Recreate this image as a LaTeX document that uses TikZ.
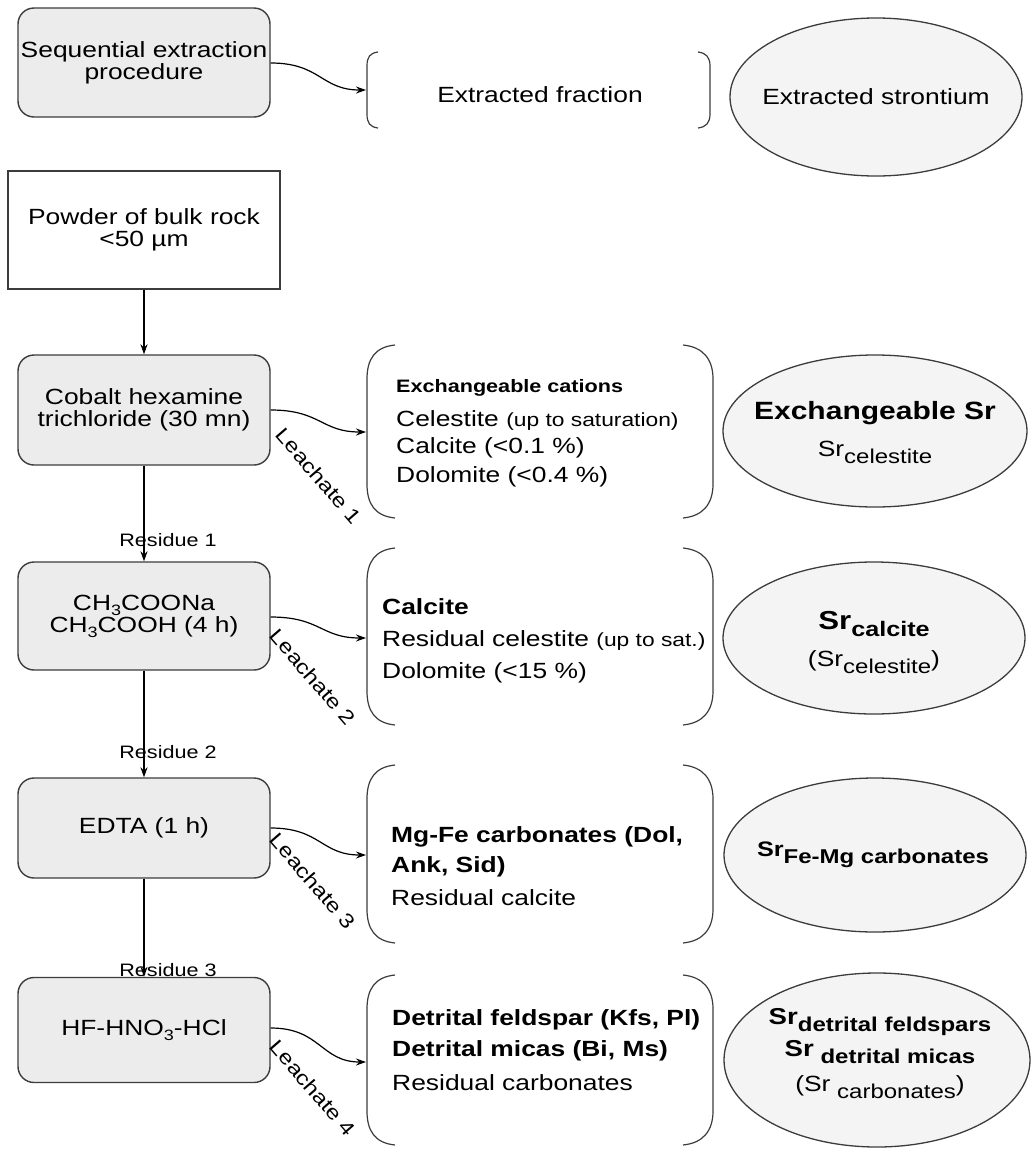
\documentclass[tikz,border=0pt]{standalone}
\usepackage{fontspec}
\setmainfont{Liberation Sans}[FakeStretch=1.2]
\usetikzlibrary{arrows.meta,shapes.geometric}
\newcommand\fsz[1]{\fontsize{#1}{#1}\selectfont}
\newcommand\subtxt[2]{\raisebox{-#1pt}{#2}}
\definecolor{boxfill}{RGB}{236,236,236}
\definecolor{ellfill}{RGB}{244,244,244}
\definecolor{edge}{RGB}{60,60,60}
\tikzset{
  proc/.style={draw=edge, line width=1.4pt, fill=boxfill, rounded corners=16pt,
    minimum width=252pt, align=center, font=\fsz{22}, inner sep=0pt},
  plain/.style={draw=edge, line width=1.4pt, fill=white, minimum width=272pt,
    minimum height=118pt, align=center, font=\fsz{22}, inner sep=0pt},
  ell/.style={ellipse, draw=edge, line width=1.3pt, fill=ellfill, inner sep=0pt},
  etxt/.style={inner sep=0pt, align=center, font=\fsz{22}},
  ltxt/.style={inner sep=0pt, anchor=west, font=\fsz{22}},
  lab/.style={inner sep=0pt, font=\fsz{18}},
  rlab/.style={inner sep=0pt, font=\fsz{20}, rotate=-49},
  brk/.style={line width=1.2pt, draw=edge},
  down/.style={line width=1.3pt, -{Stealth[length=10pt,width=7pt]}},
  leach/.style={line width=1.2pt, -{Stealth[length=10pt,width=7pt]}},
}
\begin{document}
\begin{tikzpicture}[x=1pt,y=-1pt]
\useasboundingbox (0,0) rectangle (1034,1149);

% header row
\node[proc, minimum height=109pt] (hd) at (144,62.5) {Sequential extraction\\procedure};
\node[etxt] (hf) at (540,95) {Extracted fraction};
\node[ell, minimum width=292pt, minimum height=158pt] (he) at (876,97) {};
\node[etxt] (het) at (he.center) {Extracted strontium};
\coordinate (hb) at (366,90);
\draw[brk] (378,52) .. controls (370,53) and (367,57) .. (367,66) -- (367,114) .. controls (367,123) and (370,127) .. (378,128);
\draw[brk] (698,52) .. controls (706,53) and (710,57) .. (710,66) -- (710,114) .. controls (710,123) and (706,127) .. (698,128);
\draw[leach] (hd.east |- 0,63) .. controls +(50,0) and +(-45,0) .. (hb);

% powder
\node[plain] (pw) at (144,230) {Powder of bulk rock\\<50 µm};

% process boxes
\node[proc, minimum height=110pt] (c1) at (144,410) {Cobalt hexamine\\trichloride (30 mn)};
\node[proc, minimum height=108pt] (c2) at (144,616) {CH\subtxt{5}{\fsz{15}3}COONa\\CH\subtxt{5}{\fsz{15}3}COOH (4 h)};
\node[proc, minimum height=100pt] (c3) at (144,828) {EDTA (1 h)};
\node[proc, minimum height=105pt] (c4) at (144,1030) {HF-HNO\subtxt{5}{\fsz{15}3}-HCl};

\draw[down] (pw.south) -- (c1.north);
\draw[down] (c1.south) -- (c2.north);
\draw[down] (c2.south) -- (c3.north);
\draw[down] (c3.south) -- (c4.north);

\node[lab] (r1) at (168,540) {Residue 1};
\node[lab] (r2) at (168,752) {Residue 2};
\node[lab] (r3) at (168,970) {Residue 3};

% brackets
\newcommand\brackets[2]{%
  \draw[brk] (395,#1) .. controls (375,#1+2) and (367,#1+14) .. (367,#1+34) -- (367,#2-34) .. controls (367,#2-14) and (375,#2-2) .. (395,#2);
  \draw[brk] (683,#1) .. controls (703,#1+2) and (713,#1+14) .. (713,#1+34) -- (713,#2-34) .. controls (713,#2-14) and (703,#2-2) .. (683,#2);
}
\brackets{345}{518}
\brackets{548}{725}
\brackets{765}{943}
\brackets{975}{1145}

\coordinate (b1) at (366,432);
\coordinate (b2) at (366,638);
\coordinate (b3) at (366,855);
\coordinate (b4) at (366,1062);
\draw[leach] (c1.east) .. controls +(50,0) and +(-45,0) .. (b1);
\draw[leach] (c2.east |- 0,617) .. controls +(50,0) and +(-45,0) .. (b2);
\draw[leach] (c3.east) .. controls +(50,0) and +(-45,0) .. (b3);
\draw[leach] (c4.east |- 0,1028) .. controls +(50,0) and +(-45,0) .. (b4);

\node[rlab] (l1) at (319,476) {Leachate 1};
\node[rlab] (l2) at (313,677) {Leachate 2};
\node[rlab] (l3) at (313,881) {Leachate 3};
\node[rlab] (l4) at (313,1088) {Leachate 4};

% fraction texts
\node[ltxt] (f1a) at (396,388) {\fsz{18}\bfseries Exchangeable cations};
\node[ltxt] (f1b) at (396,420) {Celestite {\fsz{19}(up to saturation)}};
\node[ltxt] (f1c) at (396,448) {Calcite (<0.1 \%)};
\node[ltxt] (f1d) at (396,477) {Dolomite (<0.4 \%)};

\node[ltxt] (f2a) at (382,607) {\bfseries Calcite};
\node[ltxt] (f2b) at (382,640) {Residual celestite {\fsz{19}(up to sat.)}};
\node[ltxt] (f2c) at (382,673) {Dolomite (<15 \%)};

\node[ltxt] (f3a) at (391,837) {\bfseries Mg-Fe carbonates (Dol,};
\node[ltxt] (f3b) at (391,867) {\bfseries Ank, Sid)};
\node[ltxt] (f3c) at (391,898) {Residual calcite};

\node[ltxt] (f4a) at (392,1020) {\bfseries Detrital feldspar (Kfs, Pl)};
\node[ltxt] (f4b) at (392,1051) {\bfseries Detrital micas (Bi, Ms)};
\node[ltxt] (f4c) at (392,1083) {Residual carbonates};

% ellipses
\node[ell, minimum width=304pt, minimum height=152pt] (e1) at (875,431) {};
\node[etxt] (e1a) at (875,413) {\fsz{25}\bfseries Exchangeable Sr};
\node[etxt] (e1b) at (875,452) {Sr\subtxt{7}{\fsz{20}celestite}};

\node[ell, minimum width=302pt, minimum height=152pt] (e2) at (874,638) {};
\node[etxt] (e2a) at (874,624) {\fsz{26}\bfseries Sr\subtxt{7}{\fsz{21}calcite}};
\node[etxt] (e2b) at (874,662) {(Sr\subtxt{7}{\fsz{20}celestite})};

\node[ell, minimum width=302pt, minimum height=154pt] (e3) at (875,855) {};
\node[etxt] (e3a) at (873,855) {\bfseries\fsz{21}Sr\subtxt{7}{\fsz{20}Fe-Mg carbonates}};

\node[ell, minimum width=306pt, minimum height=174pt] (e4) at (877,1060) {};
\node[etxt] (e4a) at (880,1022) {\bfseries\fsz{23}Sr\subtxt{7}{\fsz{20}detrital feldspars}};
\node[etxt] (e4b) at (880,1052) {\bfseries\fsz{23}Sr\subtxt{7}{\fsz{20} detrital micas}};
\node[etxt] (e4c) at (880,1087) {(Sr\subtxt{7}{\fsz{20} carbonates})};
\end{tikzpicture}
\end{document}
